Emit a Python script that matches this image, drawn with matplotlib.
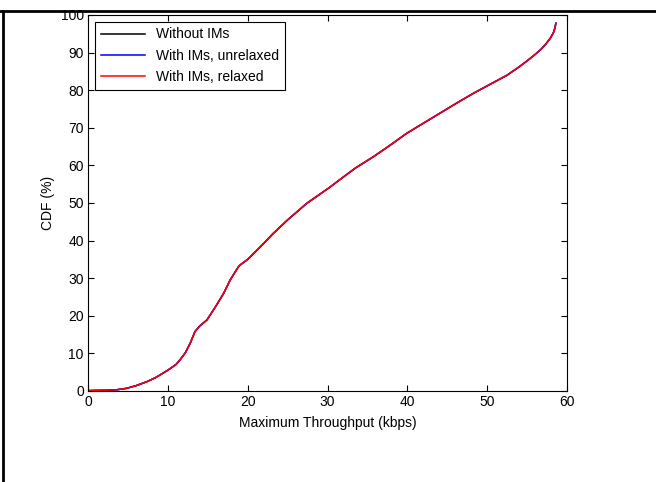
import matplotlib
matplotlib.use('Agg')
import matplotlib.pyplot as plt
from matplotlib.lines import Line2D

plt.rcParams['font.family'] = ['Liberation Sans', 'DejaVu Sans']

# throughput (kbps) vs CDF (%)
thr = [0, 1, 2, 3, 3.5, 4.8, 6, 7.4, 8.5, 9.9, 11.0, 11.5, 12.2, 12.8, 13.4,
       14.0, 14.9, 16.0, 17.0, 17.8, 18.8, 19.05, 20.0, 21.8, 23.2, 25.0, 27.4,
       30.3, 31.6, 33.5, 35.75, 38.0, 39.9, 42.0, 44.1, 46.2, 48.3, 50.4, 52.5,
       54.0, 55.0, 56.0, 56.8, 57.4, 57.9, 58.3, 58.5, 58.6]
cdf_no_im = [0.1, 0.15, 0.2, 0.25, 0.3, 0.7, 1.4, 2.5, 3.6, 5.4, 7.0, 8.2, 10.2,
             12.7, 15.8, 17.3, 18.9, 22.5, 26.0, 29.5, 32.9, 33.5, 35.0, 38.8,
             41.9, 45.5, 49.9, 54.2, 56.3, 59.3, 62.3, 65.6, 68.5, 71.2, 73.9,
             76.6, 79.2, 81.6, 84.0, 86.2, 87.8, 89.5, 91.0, 92.4, 93.8, 95.3,
             96.6, 97.8]
cdf_unrelaxed = list(cdf_no_im)
cdf_relaxed = list(cdf_no_im)

fig = plt.figure(figsize=(6.56, 4.82), dpi=100)
ax = fig.add_axes([88/656, 91/482, 479/656, 376/482])

ax.plot(thr, cdf_no_im, color='black', lw=1.1, label='Without IMs')
ax.plot(thr, cdf_unrelaxed, color='blue', lw=1.1, label='With IMs, unrelaxed')
ax.plot(thr, cdf_relaxed, color='red', lw=1.1, label='With IMs, relaxed')

ax.set_xlim(0, 60)
ax.set_ylim(0, 100)
ax.set_xticks(range(0, 61, 10))
ax.set_yticks(range(0, 101, 10))
ax.tick_params(direction='in', top=True, right=True, length=4, labelsize=10, pad=3)
ax.set_xlabel('Maximum Throughput (kbps)', fontsize=10, labelpad=5)
ax.set_ylabel('CDF (%)', fontsize=10, labelpad=4)

leg = ax.legend(loc='upper left', fontsize=10, fancybox=False, framealpha=1,
                edgecolor='black', borderaxespad=0.5, handlelength=3.2,
                labelspacing=0.52, borderpad=0.4)
leg.get_frame().set_linewidth(0.8)

# outer frame lines of the page
fig.add_artist(Line2D([0, 1], [1 - 11/482, 1 - 11/482], color='black', lw=2))
fig.add_artist(Line2D([3/656, 3/656], [0, 1 - 11/482], color='black', lw=2))

fig.savefig('out.png', dpi=100)
